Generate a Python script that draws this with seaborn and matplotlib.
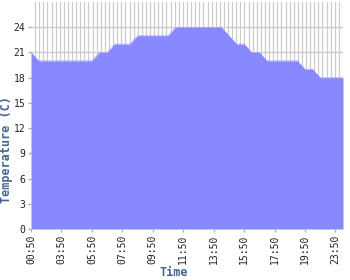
import numpy as np
import pandas as pd
import matplotlib
matplotlib.use("Agg")
import matplotlib.pyplot as plt
import seaborn as sns

times = ["00:50", "01:50", "02:50", "03:20", "03:50", "04:20", "04:50", "05:20",
         "05:50", "06:20", "06:50", "07:20", "07:50", "08:20", "08:50", "09:20",
         "09:50", "10:20", "10:50", "11:20", "11:50", "12:20", "12:50", "13:20",
         "13:50", "14:20", "14:50", "15:20", "15:50", "16:20", "16:50", "17:20",
         "17:50", "18:20", "18:50", "19:20", "19:50", "20:50", "21:50", "22:50",
         "23:50", "23:59"]
temps = [21, 20, 20, 20, 20, 20, 20, 20,
         20, 21, 21, 22, 22, 22, 23, 23,
         23, 23, 23, 24, 24, 24, 24, 24,
         24, 24, 23, 22, 22, 21, 21, 20,
         20, 20, 20, 20, 19, 19, 18, 18,
         18, 18]
tick_every = 4
y_ticks = [0, 3, 6, 9, 12, 15, 18, 21, 24]

df = pd.DataFrame({"idx": np.arange(len(times)), "time": times, "temp": temps})

sns.set_style("white")
plt.rcParams['font.family'] = ['DejaVu Sans Mono', 'DejaVu Sans']

fig = plt.figure(figsize=(3.5, 2.8), dpi=100)
ax = fig.add_axes([31/350, 1-229/280, 312/350, 227/280])

fill_color = "#8888ff"
ax.fill_between(df["idx"], df["temp"], 0, color=fill_color, linewidth=0, zorder=3)
sns.lineplot(data=df, x="idx", y="temp", color=fill_color, linewidth=0.3, ax=ax, zorder=4)

n = len(times) - 1
ax.set_xlim(0, n)
ax.set_ylim(0, 27)

# grid
ax.set_xticks(np.linspace(0, n, 77), minor=True)
ax.grid(True, which="minor", axis="x", color="#cccccc", linewidth=0.9, zorder=0)
ax.set_yticks(y_ticks)
ax.grid(True, which="major", axis="y", color="#cccccc", linewidth=0.9, zorder=0)
ax.set_axisbelow(True)

major_idx = list(range(0, len(times), tick_every))
ax.set_xticks(major_idx)
ax.set_xticklabels([times[i] for i in major_idx], rotation=90)
ax.tick_params(axis="x", which="minor", length=0)
ax.tick_params(axis="both", which="major", labelsize=7, length=2.5, width=1,
               color="#b0b0b0", labelcolor="#222222", pad=1.5, bottom=True, left=True)

for s in ax.spines.values():
    s.set_visible(False)

lab_color = "#44668f"
ax.set_xlabel("Time", fontsize=8.5, fontweight="bold", color=lab_color)
ax.xaxis.set_label_coords((174 - 31) / 312, (229 - 266) / 227)
ax.set_ylabel("Temperature (C)", fontsize=8.5, fontweight="bold", color=lab_color)
ax.yaxis.set_label_coords(-18/312, (229 - 150) / 227)

fig.savefig("out.png", dpi=100)
